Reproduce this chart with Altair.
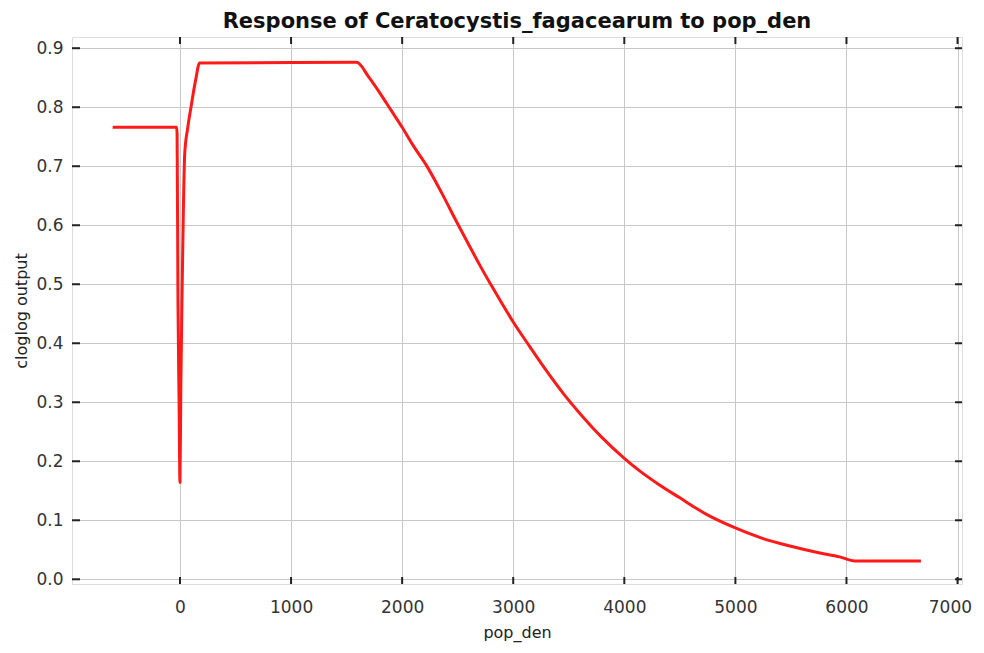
import altair as alt
import pandas as pd

# Data
pop_den = [-606, -30, -26, -18, -8, 0, 8, 18, 30, 43, 70, 100, 140, 177,
           1590, 1700, 1800, 1900, 2000, 2100, 2220, 2350, 2490, 2600, 2700,
           2800, 2900, 3000, 3150, 3300, 3450, 3600, 3800, 4000, 4150, 4300, 4500, 4740,
           5000, 5250, 5500, 5750, 5940, 6075, 6670]
cloglog = [0.766, 0.766, 0.755, 0.47, 0.30, 0.164, 0.33, 0.474, 0.62, 0.722,
           0.765, 0.801, 0.845, 0.875,
           0.876, 0.851, 0.824, 0.795, 0.766, 0.735, 0.701, 0.657, 0.606, 0.567, 0.532,
           0.499, 0.467, 0.436, 0.394, 0.353, 0.315, 0.281, 0.240, 0.205, 0.182,
           0.162, 0.138, 0.110, 0.087, 0.069, 0.056, 0.045, 0.038, 0.031, 0.031]

x_ticks = [0, 1000, 2000, 3000, 4000, 5000, 6000, 7000]
y_ticks = [0.0, 0.1, 0.2, 0.3, 0.4, 0.5, 0.6, 0.7, 0.8, 0.9]

W, H = 890, 547
FONT = "DejaVu Sans"

df = pd.DataFrame({"pop_den": pop_den, "cloglog": cloglog})
xt = pd.DataFrame({"v": x_ticks})
yt = pd.DataFrame({"v": y_ticks})

xscale = alt.Scale(domain=[-972, 7040], nice=False, zero=False)
yscale = alt.Scale(domain=[-0.008, 0.919], nice=False, zero=False)

line = alt.Chart(df).mark_line(color="#ff1a1a", strokeWidth=3, strokeJoin="round",
                               interpolate="monotone").encode(
    x=alt.X("pop_den:Q", scale=xscale, title="pop_den",
            axis=alt.Axis(values=x_ticks, format="d", grid=True, gridColor="#c8c8c8", gridWidth=1,
                          domain=False, ticks=False, tickSize=0, labelPadding=15,
                          labelFont=FONT, labelFontSize=17, labelColor="#333333",
                          titleFont=FONT, titleFontSize=16, titleFontWeight="normal",
                          titleColor="#222222", titlePadding=9,
                          labelFlush=10, labelFlushOffset=14)),
    y=alt.Y("cloglog:Q", scale=yscale, title="cloglog output",
            axis=alt.Axis(values=y_ticks, format=".1f", grid=True, gridColor="#c8c8c8",
                          gridWidth=1, domain=False, ticks=False, tickSize=0, labelPadding=9,
                          labelFont=FONT, labelFontSize=17, labelColor="#333333",
                          titleFont=FONT, titleFontSize=16, titleFontWeight="normal",
                          titleColor="#222222", titlePadding=6, labelFlush=False)),
)

xb = alt.Chart(xt).mark_rule(color="#222222", strokeWidth=2).encode(
    x=alt.X("v:Q", scale=xscale), y=alt.value(H), y2=alt.value(H - 7))
xtop = alt.Chart(xt).mark_rule(color="#222222", strokeWidth=2).encode(
    x=alt.X("v:Q", scale=xscale), y=alt.value(0), y2=alt.value(7))
yl = alt.Chart(yt).mark_rule(color="#222222", strokeWidth=2).encode(
    y=alt.Y("v:Q", scale=yscale), x=alt.value(0), x2=alt.value(8))
yr = alt.Chart(yt).mark_rule(color="#222222", strokeWidth=2).encode(
    y=alt.Y("v:Q", scale=yscale), x=alt.value(W), x2=alt.value(W - 7))

chart = alt.layer(line, xb, xtop, yl, yr).properties(
    width=W, height=H,
    title=alt.TitleParams("Response of Ceratocystis_fagacearum to pop_den",
                          font=FONT, fontSize=21, fontWeight="bold", color="#111111",
                          anchor="middle", offset=4),
    autosize=alt.AutoSizeParams(type="none"),
    padding={"left": 64, "top": 29, "right": 14, "bottom": 60},
).configure_view(stroke="#222222", strokeWidth=2).configure(background="white")

chart.save("out.html", embed_options={"renderer": "svg", "actions": False})
